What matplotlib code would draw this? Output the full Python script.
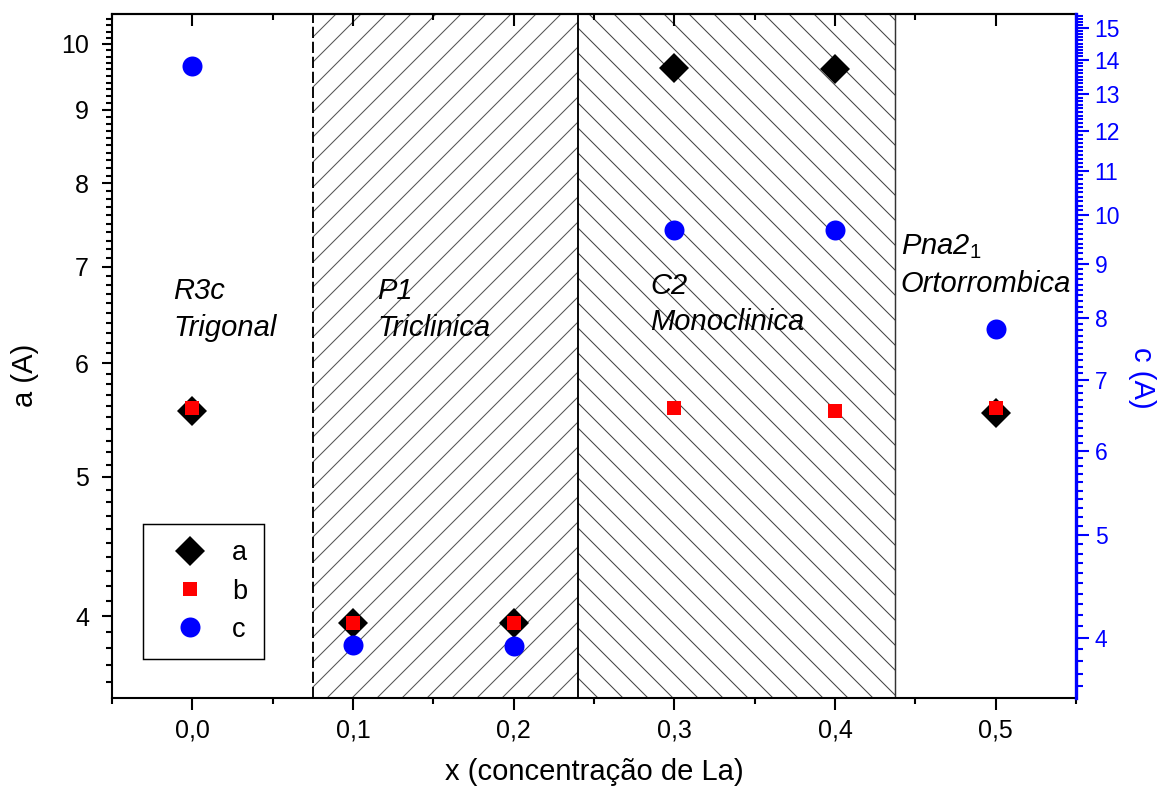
import numpy as np
import matplotlib
matplotlib.use('Agg')
import matplotlib.pyplot as plt
from matplotlib.ticker import FixedLocator, MultipleLocator, NullFormatter, FixedFormatter
from matplotlib.lines import Line2D

plt.rcParams['font.family'] = ['Liberation Sans', 'DejaVu Sans']
plt.rcParams['mathtext.fontset'] = 'custom'
plt.rcParams['mathtext.it'] = 'Liberation Sans:italic'
plt.rcParams['mathtext.rm'] = 'Liberation Sans'
plt.rcParams['hatch.linewidth'] = 0.5

# data
x = [0.0, 0.1, 0.2, 0.3, 0.4, 0.5]
a_vals = [5.56, 3.96, 3.96, 9.62, 9.61, 5.54]
b_vals = [5.58, 3.96, 3.96, 5.58, 5.56, 5.58]
c_vals = [13.81, 3.94, 3.93, 9.68, 9.68, 7.81]

x_ticks = [0.0, 0.1, 0.2, 0.3, 0.4, 0.5]
x_ticklabels = ['0,0', '0,1', '0,2', '0,3', '0,4', '0,5']
a_ticks = [4, 5, 6, 7, 8, 9, 10]
c_ticks = [4, 5, 6, 7, 8, 9, 10, 11, 12, 13, 14, 15]

# phase regions (x limits) and labels
tricl = (0.075, 0.24)
mono = (0.24, 0.4375)
phases = [(-0.012, 0.568, 'R3c\nTrigonal'),
          (0.115, 0.568, 'P1\nTriclinica'),
          (0.285, 0.576, 'C2\nMonoclinica'),
          (0.441, 0.633, 'Pna2$_{\\mathit{1}}$\nOrtorrombica')]

dpi = 150
fig = plt.figure(figsize=(1172 / dpi, 794 / dpi), dpi=dpi)
ax = fig.add_axes([112 / 1172, 96 / 794, 964 / 1172, 684 / 794])
ax2 = ax.twinx()

# hatched regions
ax.axvspan(*tricl, facecolor='none', edgecolor='#555555', hatch='//', linewidth=0, zorder=0)
ax.axvspan(*mono, facecolor='none', edgecolor='#444444', hatch='\\\\', linewidth=0, zorder=0)
ax.axvline(tricl[0], color='black', linestyle=(0, (6, 2)), linewidth=0.9, zorder=1)
ax.axvline(tricl[1], color='black', linewidth=0.9, zorder=1)
ax.axvline(mono[1], color='#333333', linewidth=0.7, zorder=1)

ms_d, ms_s, ms_o = 10.2, 6.7, 9.6
ax.plot(x, a_vals, linestyle='none', marker='D', color='black', markersize=ms_d, markeredgewidth=0, zorder=3)
ax.plot(x, b_vals, linestyle='none', marker='s', color='#FF0000', markersize=ms_s, markeredgewidth=0, zorder=4)
ax2.plot(x, c_vals, linestyle='none', marker='o', color='#0000FF', markersize=ms_o, markeredgewidth=0, zorder=3)

# x axis
ax.set_xlim(-0.05, 0.55)
ax.xaxis.set_major_locator(FixedLocator(x_ticks))
ax.xaxis.set_major_formatter(FixedFormatter(x_ticklabels))
ax.xaxis.set_minor_locator(MultipleLocator(0.05))
ax.tick_params(axis='x', which='major', direction='out', length=5.8, width=1, labelsize=12, pad=4)
ax.tick_params(axis='x', which='minor', direction='out', length=3, width=1)
top = ax.secondary_xaxis('top')
top.xaxis.set_major_locator(FixedLocator(x_ticks))
top.xaxis.set_minor_locator(MultipleLocator(0.05))
top.tick_params(axis='x', which='major', direction='in', length=5.8, width=1, labeltop=False)
top.tick_params(axis='x', which='minor', direction='in', length=3, width=1)
top.spines['top'].set_linewidth(1)

# left axis (log)
ax.set_yscale('log')
ax.set_ylim(3.51, 10.49)
ax.yaxis.set_major_locator(FixedLocator(a_ticks))
ax.yaxis.set_major_formatter(FixedFormatter([str(t) for t in a_ticks]))
ax.yaxis.set_minor_locator(MultipleLocator(0.1))
ax.yaxis.set_minor_formatter(NullFormatter())
ax.tick_params(axis='y', which='major', direction='out', length=5, width=1, labelsize=12, pad=6)
ax.tick_params(axis='y', which='minor', direction='out', length=3, width=1)

# right axis (log)
ax2.set_yscale('log')
ax2.set_ylim(3.51, 15.46)
ax2.yaxis.set_major_locator(FixedLocator(c_ticks))
ax2.yaxis.set_major_formatter(FixedFormatter([str(t) for t in c_ticks]))
ax2.yaxis.set_minor_locator(MultipleLocator(0.1))
ax2.yaxis.set_minor_formatter(NullFormatter())
ax2.tick_params(axis='y', which='major', direction='out', length=6, width=1, labelsize=11,
                colors='#0000FF', pad=3)
ax2.tick_params(axis='y', which='minor', direction='out', length=3.3, width=1, colors='#0000FF')

for side in ['left', 'bottom', 'top']:
    ax.spines[side].set_linewidth(1)
ax.spines['right'].set_visible(False)
ax2.spines['right'].set_color('#0000FF')
ax2.spines['right'].set_linewidth(1.6)
for side in ['left', 'bottom', 'top']:
    ax2.spines[side].set_visible(False)

ax.set_xlabel('x (concentração de La)', fontsize=14, va='center')
ax.xaxis.set_label_coords(0.5, -0.108)
ax.set_ylabel('a (A)', fontsize=14, va='center')
ax.yaxis.set_label_coords(-0.090, 0.472)
ax2.set_ylabel('c (A)', fontsize=14, color='#0000FF', rotation=270, va='center')
ax2.yaxis.set_label_coords(1.068, 0.468)

for px, py, txt in phases:
    ax.text(px, py, txt, transform=ax.get_xaxis_transform(), fontsize=14, style='italic',
            ha='left', va='center', linespacing=1.4, zorder=5)

handles = [Line2D([], [], linestyle='none', marker='D', color='black', markersize=ms_d, markeredgewidth=0),
           Line2D([], [], linestyle='none', marker='s', color='#FF0000', markersize=ms_s, markeredgewidth=0),
           Line2D([], [], linestyle='none', marker='o', color='#0000FF', markersize=ms_o, markeredgewidth=0)]
leg = ax2.legend(handles, ['a', 'b', 'c'], loc='lower left', bbox_to_anchor=(0.032, 0.057),
                 fontsize=13, frameon=True, fancybox=False, edgecolor='black', framealpha=1,
                 handlelength=2.3, handletextpad=0.4, labelspacing=0.45, borderpad=0.6,
                 borderaxespad=0)
leg.get_frame().set_linewidth(0.7)

fig.savefig('out.png', dpi=dpi)
